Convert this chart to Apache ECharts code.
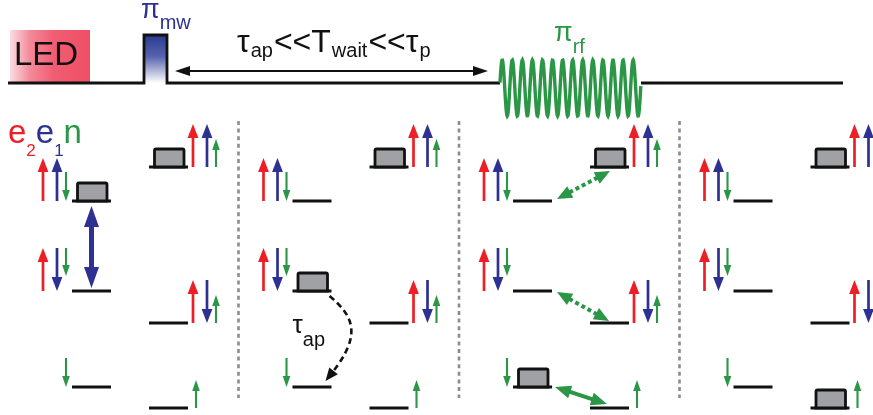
<!DOCTYPE html>
<html>
<head>
<meta charset="utf-8">
<script src="https://cdn.jsdelivr.net/npm/echarts@6/dist/echarts.min.js"></script>
<style>
  html, body { margin: 0; padding: 0; background: #fff; }
  #chart { width: 873px; height: 415px; }
</style>
</head>
<body>
<div id="chart"></div>
<script>
// ---------- data ----------
// Hyperfine levels of the e2 / e1 / nucleus spin system.
// Spin projection: +1 up, -1 down, 0 = not shown for that level.
const levelNames  = ['↑↑↓', '↑↓↓', '↓', '↑↑↑', '↑↓↑', '↑'];
const spinE2      = [1, 1, 0, 1, 1, 0];
const spinE1      = [1, -1, 0, 1, -1, 0];
const spinN       = [-1, -1, -1, 1, 1, 1];
const levelColumn = [0, 0, 0, 1, 1, 1];          // 0 = left manifold, 1 = right manifold
const levelEnergy = [214, 124, 28, 248, 92, 7];  // energy, diagram units

// Stages of the protocol and the levels that carry population in each
const stageNames      = ['LED', 'πmw', 'Twait', 'πrf'];
const stagePopulation = [[0, 3], [1, 3], [3, 2], [3, 5]];

// Transitions: [stage, from level, to level, kind]
const transitions = [
  [0, 0, 1, 'mw'],
  [1, 1, 2, 'decay'],
  [2, 0, 3, 'rfWeak'],
  [2, 1, 4, 'rfWeak'],
  [2, 2, 5, 'rf']
];

// Pulse sequence on the time axis (diagram units)
const sequenceSpan = [8, 843];
const ledPulse     = [10, 90];
const mwPulse      = [144, 167];
const waitSpan     = [175, 488];
const rfPulse      = [500, 641];
const rfCycles     = 14;

// Text
const ledLabel   = 'LED';
const mwLabel    = [['π', 'main'], ['mw', 'sub']];
const waitLabel  = [['τ', 'main'], ['ap', 'sub'], ['<<T', 'main'], ['wait', 'sub'], ['<<τ', 'main'], ['p', 'sub']];
const rfLabel    = [['π', 'main'], ['rf', 'sub']];
const spinLabel  = [['e', 'main', 'e2'], ['2', 'sub', 'e2'], ['e', 'main', 'e1'], ['1', 'sub', 'e1'], ['n', 'main', 'n']];
const decayLabel = [['τ', 'main'], ['ap', 'sub']];

// ---------- styling / layout ----------
const RED = '#ec1e26', BLUE = '#2e3192', GREEN = '#2a9646', BLACK = '#111111';
const BOX_FILL = '#9fa1a5', SEP = '#8c8c8c';
const FONT = '"Liberation Sans", Arial, Helvetica, sans-serif';
const W = 873, H = 415;

const stagePitch = 220.5;
const leftColX = 72, rightColX = 149, levelLen = 39;
const separatorX = 238.5;

const spinColor = { e2: RED, e1: BLUE, n: GREEN };

const measureCtx = document.createElement('canvas').getContext('2d');
function textWidth(t, size) {
  measureCtx.font = size + 'px ' + FONT;
  return measureCtx.measureText(t).width;
}
// Run of text pieces on a common baseline; subscripts are smaller and lowered.
function textRun(pieces, x, base, mainSize, subSize, subDrop, colorOf, gap) {
  const out = [];
  let cx = x;
  pieces.forEach(function (p) {
    const size = p[1] === 'sub' ? subSize : mainSize;
    const b = p[1] === 'sub' ? base + subDrop : base;
    out.push({
      type: 'text',
      style: {
        text: p[0], x: cx, y: b - 0.3465 * size,
        font: size + 'px ' + FONT, fill: colorOf(p),
        align: 'left', verticalAlign: 'middle'
      }
    });
    cx += textWidth(p[0], size) + (gap || 0);
  });
  return out;
}

function arrowHead(tx, ty, ux, uy, hl, hw, color) {
  const bx = tx - ux * hl, by = ty - uy * hl;
  return {
    type: 'polygon',
    shape: { points: [[tx, ty], [bx - uy * hw, by + ux * hw], [bx + uy * hw, by - ux * hw]] },
    style: { fill: color }
  };
}
function arrow(x1, y1, x2, y2, color, w, hl, hw) {
  const dx = x2 - x1, dy = y2 - y1, L = Math.hypot(dx, dy), ux = dx / L, uy = dy / L;
  return [
    { type: 'line', shape: { x1: x1, y1: y1, x2: x2 - ux * (hl - 1), y2: y2 - uy * (hl - 1) },
      style: { stroke: color, lineWidth: w } },
    arrowHead(x2, y2, ux, uy, hl, hw, color)
  ];
}
function doubleArrow(x1, y1, x2, y2, color, w, hl, hw, dash) {
  const dx = x2 - x1, dy = y2 - y1, L = Math.hypot(dx, dy), ux = dx / L, uy = dy / L;
  return [
    { type: 'line',
      shape: { x1: x1 + ux * (hl - 1), y1: y1 + uy * (hl - 1), x2: x2 - ux * (hl - 1), y2: y2 - uy * (hl - 1) },
      style: { stroke: color, lineWidth: w, lineDash: dash || null } },
    arrowHead(x2, y2, ux, uy, hl, hw, color),
    arrowHead(x1, y1, -ux, -uy, hl, hw, color)
  ];
}

function levelStart(stage, level) {
  return stage * stagePitch + (levelColumn[level] ? rightColX : leftColX);
}

// ---------- series ----------
const levelData = [];
stageNames.forEach(function (_, s) { levelNames.forEach(function (_, l) { levelData.push([s, l]); }); });

function renderLevel(params, api) {
  const s = api.value(0), l = api.value(1);
  const xs = levelStart(s, l);
  const a = api.coord([xs, levelEnergy[l]]);
  const b = api.coord([xs + levelLen, levelEnergy[l]]);
  const y = a[1];
  const kids = [{ type: 'line', shape: { x1: a[0], y1: y, x2: b[0], y2: y },
                  style: { stroke: BLACK, lineWidth: 2.8 } }];
  const spins = [[spinE2[l], 'e2'], [spinE1[l], 'e1'], [spinN[l], 'n']].filter(function (d) { return d[0] !== 0; });
  let slots;
  if (levelColumn[l]) {
    slots = spins.length === 1 ? [b[0] + 8] : [b[0] + 5, b[0] + 19, b[0] + 28];
  } else {
    slots = [a[0] - 29, a[0] - 15, a[0] - 6].slice(3 - spins.length);
  }
  spins.forEach(function (sp, i) {
    const x = slots[i], dir = sp[0], who = sp[1];
    const color = spinColor[who];
    if (who === 'n') {
      let tail, tip;
      if (dir > 0) { tail = y; tip = y - 28; }
      else if (spinE1[l] < 0) { tail = y - 43; tip = y - 15; }
      else { tail = y - 29; tip = y; }
      kids.push.apply(kids, arrow(x, tail, x, tip, color, 2.1, 11, 3.8));
    } else {
      const tail = dir > 0 ? y : y - 43, tip = dir > 0 ? y - 43 : y;
      kids.push.apply(kids, arrow(x, tail, x, tip, color, 2.7, 14, 5.4));
    }
  });
  return { type: 'group', children: kids };
}

const boxData = [];
stagePopulation.forEach(function (levels, s) { levels.forEach(function (l) { boxData.push([s, l]); }); });

function renderBox(params, api) {
  const s = api.value(0), l = api.value(1);
  const xs = levelStart(s, l);
  const a = api.coord([xs + 5.5, levelEnergy[l]]);
  const b = api.coord([xs + 35, levelEnergy[l]]);
  return {
    type: 'rect',
    shape: { x: a[0], y: a[1] - 18, width: b[0] - a[0], height: 18, r: [1.5, 1.5, 0, 0] },
    style: { fill: BOX_FILL, stroke: BLACK, lineWidth: 2.8 }
  };
}

function renderTransition(params, api) {
  const t = transitions[params.dataIndex];
  const s = t[0], from = t[1], to = t[2], kind = t[3];
  const f0 = api.coord([levelStart(s, from), levelEnergy[from]]);
  const t0 = api.coord([levelStart(s, to), levelEnergy[to]]);
  const fEnd = f0[0] + levelLen;
  if (kind === 'mw') {
    const x = f0[0] + 19.5;
    return { type: 'group', children: doubleArrow(x, f0[1] + 5, x, t0[1] - 3, BLUE, 5, 21, 7.5) };
  }
  if (kind === 'decay') {
    const sx = fEnd - 2, sy = f0[1] + 5;
    const tipX = t0[0] + 33, tipY = t0[1] - 6;
    const ux = -0.62, uy = 0.78, hl = 13;
    const ex = tipX - ux * (hl - 2), ey = tipY - uy * (hl - 2);
    return { type: 'group', children: [
      { type: 'bezierCurve',
        shape: { x1: sx, y1: sy, cpx1: sx + 24, cpy1: sy + 20, cpx2: ex + 30, cpy2: ey - 38, x2: ex, y2: ey },
        style: { stroke: BLACK, lineWidth: 2.6, lineDash: [6, 4], fill: null } },
      arrowHead(tipX, tipY, ux, uy, hl, 5.5, BLACK)
    ] };
  }
  // radio-frequency transitions between the two manifolds
  if (from === 0) {
    return { type: 'group', children: doubleArrow(fEnd + 5, f0[1] - 2, t0[0] + 20, t0[1] + 4, GREEN, 4, 15, 6.5, [4, 3]) };
  }
  if (from === 1) {
    return { type: 'group', children: doubleArrow(fEnd + 5, f0[1] + 1, t0[0] + 19, t0[1] - 2, GREEN, 4, 15, 6.5, [4, 3]) };
  }
  return { type: 'group', children: doubleArrow(fEnd + 3, f0[1], t0[0] + 17, t0[1] - 4, GREEN, 4, 16, 6.5) };
}

function renderDecor(params, api) {
  const P = function (x, y) { return api.coord([x, y]); };
  const kids = [];
  const base = 83;

  // LED illumination block
  const l0 = P(ledPulse[0], 30), l1 = P(ledPulse[1], 82);
  kids.push({ type: 'rect', shape: { x: l0[0], y: l0[1], width: l1[0] - l0[0], height: l1[1] - l0[1] },
    style: { fill: new echarts.graphic.LinearGradient(0, 0, 1, 0, [
      { offset: 0, color: '#fbdde3' }, { offset: 0.25, color: '#f38a9a' },
      { offset: 0.55, color: '#f05d72' }, { offset: 1, color: '#ee4f66' }]) } });
  kids.push.apply(kids, textRun([[ledLabel, 'main']], P(14, 0)[0], P(0, 67)[1], 33, 20, 0,
    function () { return BLACK; }));

  // microwave pulse fill
  const m0 = P(mwPulse[0], 35), m1 = P(mwPulse[1], base);
  kids.push({ type: 'rect', shape: { x: m0[0], y: m0[1], width: m1[0] - m0[0], height: m1[1] - m0[1] },
    style: { fill: new echarts.graphic.LinearGradient(0, 0, 0, 1, [
      { offset: 0, color: '#2b3990' }, { offset: 0.45, color: '#5664ad' }, { offset: 1, color: '#ffffff' }]) } });

  // pulse trace
  const trace = [[sequenceSpan[0], base], [mwPulse[0], base], [mwPulse[0], 35], [mwPulse[1], 35],
                 [mwPulse[1], base], [rfPulse[0], base]].map(function (p) { return P(p[0], p[1]); });
  kids.push({ type: 'polyline', shape: { points: trace }, style: { stroke: BLACK, lineWidth: 2.8, fill: null } });
  const tail = [P(rfPulse[1], base), P(sequenceSpan[1], base)];
  kids.push({ type: 'polyline', shape: { points: tail }, style: { stroke: BLACK, lineWidth: 2.8, fill: null } });

  // rf burst
  const period = (rfPulse[1] - rfPulse[0]) / rfCycles;
  const wave = [];
  for (let x = rfPulse[0]; x <= rfPulse[1] + 0.01; x += 0.4) {
    const y = 88 - 28 * Math.sin(2 * Math.PI * (x - rfPulse[0]) / period + 0.19);
    wave.push(P(x, y));
  }
  kids.push({ type: 'polyline', shape: { points: wave }, style: { stroke: GREEN, lineWidth: 3.4, fill: null } });

  // waiting time arrow
  const w0 = P(waitSpan[0], 71), w1 = P(waitSpan[1], 71);
  kids.push.apply(kids, doubleArrow(w0[0], w0[1], w1[0], w1[1], BLACK, 2.2, 15, 5));

  // labels
  kids.push.apply(kids, textRun(mwLabel, P(141, 0)[0], P(0, 20)[1], 27, 20, 10, function () { return BLUE; }));
  kids.push.apply(kids, textRun(waitLabel, P(237, 0)[0], P(0, 54)[1], 32, 20, 4, function () { return BLACK; }, 1));
  kids.push.apply(kids, textRun(rfLabel, P(554, 0)[0], P(0, 43)[1], 27, 20, 11, function () { return GREEN; }));
  kids.push.apply(kids, textRun(spinLabel, P(8, 0)[0], P(0, 145)[1], 33, 17, 12,
    function (p) { return spinColor[p[2]]; }));
  kids.push.apply(kids, textRun(decayLabel, P(stagePitch + 72, 0)[0], P(0, 335)[1], 26, 20, 12,
    function () { return BLACK; }));

  // stage separators
  for (let k = 0; k < stageNames.length - 1; k++) {
    const a = P(separatorX + k * stagePitch, 121), b = P(separatorX + k * stagePitch, 398);
    kids.push({ type: 'line', shape: { x1: a[0], y1: a[1], x2: b[0], y2: b[1] },
      style: { stroke: SEP, lineWidth: 2.6, lineDash: [4, 3.6] } });
  }
  return { type: 'group', children: kids };
}

const chart = echarts.init(document.getElementById('chart'), null, { renderer: 'canvas' });
chart.setOption({
  animation: false,
  backgroundColor: '#ffffff',
  grid: { left: 0, right: 0, top: 0, bottom: 0 },
  xAxis: { type: 'value', min: 0, max: W, show: false },
  yAxis: [
    { type: 'value', min: 0, max: H, show: false },
    { type: 'value', min: 0, max: H, inverse: true, show: false }
  ],
  series: [
    { type: 'custom', name: 'sequence', yAxisIndex: 1, silent: true, data: [[0, 0]], renderItem: renderDecor, z: 1 },
    { type: 'custom', name: 'levels', yAxisIndex: 0, silent: true, data: levelData, renderItem: renderLevel, z: 2 },
    { type: 'custom', name: 'population', yAxisIndex: 0, silent: true, data: boxData, renderItem: renderBox, z: 3 },
    { type: 'custom', name: 'transitions', yAxisIndex: 0, silent: true,
      data: transitions.map(function (t) { return [t[0], t[1]]; }), renderItem: renderTransition, z: 4 }
  ]
});
</script>
</body>
</html>
